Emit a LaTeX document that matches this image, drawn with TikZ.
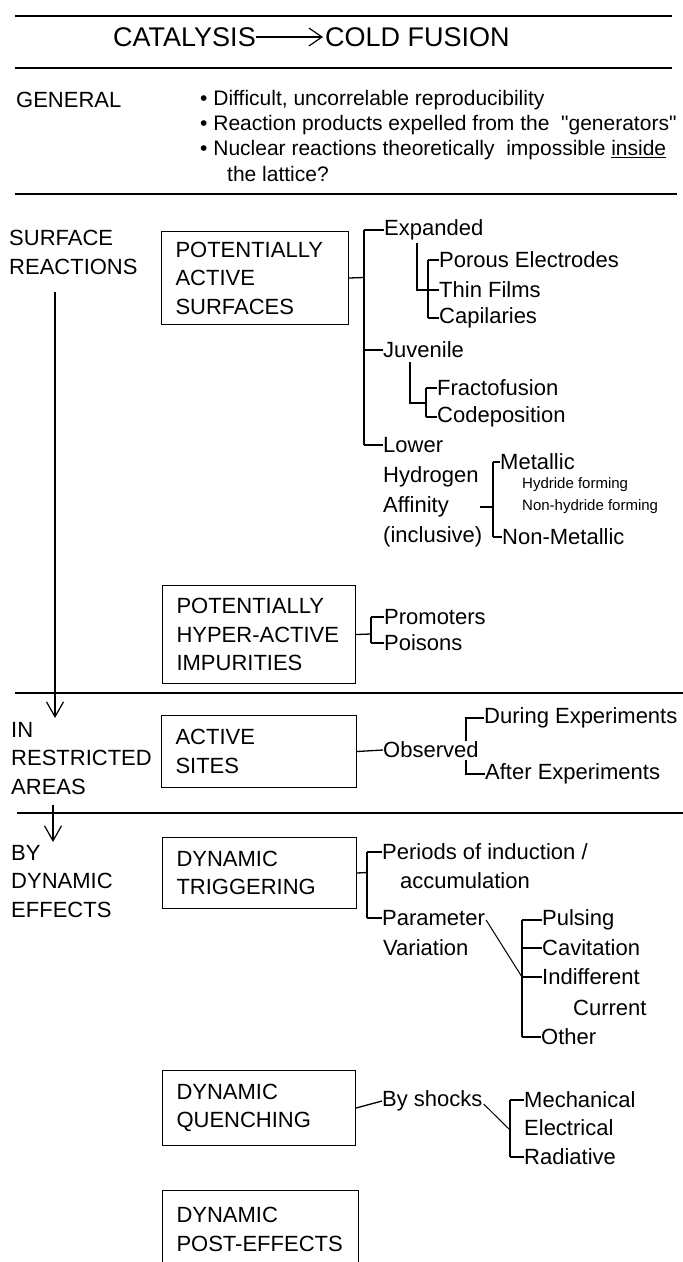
\documentclass[tikz,border=0pt]{standalone}
\usepackage{fontspec}
\setmainfont{Liberation Sans}[Ligatures=TeXOff]
\usetikzlibrary{arrows.meta}
\begin{document}
\begin{tikzpicture}[x=1pt,y=-1pt,
  lbl/.style={anchor=west,inner sep=0pt,font=\fontsize{22}{28.5}\selectfont,align=left},
  bul/.style={anchor=west,inner sep=0pt,font=\fontsize{21}{25}\selectfont},
  ttl/.style={anchor=west,inner sep=0pt,font=\fontsize{27}{30}\selectfont},
  small/.style={anchor=west,inner sep=0pt,font=\fontsize{15}{18}\selectfont},
  boxed/.style={draw,line width=1pt,anchor=north west,inner xsep=14pt,inner ysep=0pt,align=left,font=\fontsize{22}{28.5}\selectfont},
  rule/.style={line width=1.8pt},
  br/.style={line width=1.3pt},
  tip/.style={-{Straight Barb[length=15pt,width=17pt,line width=1.2pt]}}
]
\clip (0,0) rectangle (683,1262);
\fill[white] (0,0) rectangle (683,1262);

% ---- title ----
\draw[rule] (15,16) -- (672,16);
\node[ttl] (cat) at (113,37) {CATALYSIS};
\node[ttl] (cold) at (325,37) {COLD FUSION};
\draw[br,-{Straight Barb[length=13pt,width=18pt,line width=1.2pt]}] (cat.east) -- ([xshift=-2pt]cold.west);
\draw[rule] (15,68) -- (672,68);

% ---- general ----
\node[lbl] (gen) at (16,100) {GENERAL};
\node[bul] (g1) at (200,100) {\textbullet\ Difficult, uncorrelable reproducibility};
\node[bul] (g2) at (200,125) {\textbullet\ Reaction products expelled from the \ "generators"};
\node[bul] (g3) at (200,150) {\textbullet\ Nuclear reactions theoretically \ impossible \underline{inside}};
\node[bul] (g4) at (227,174) {the lattice?};
\draw[rule] (15,194) -- (677,194);

% ---- surface reactions ----
\node[lbl] (surf) at (9,252.5) {SURFACE\\REACTIONS};
\coordinate (a1s) at (55,292);
\coordinate (a1e) at (55,718);
\draw[br,tip] (a1s) -- (a1e);

\node[boxed,text width=159pt,minimum height=93pt] (b1) at (161,231) {POTENTIALLY\\ACTIVE\\SURFACES};
\coordinate (m1) at (364,277.5);
\coordinate (m1t) at (364,230);
\coordinate (m1b) at (364,445);
\draw[br] (b1.east) -- (m1);
\draw[br] (m1t) -- (m1b);

\node[lbl] (exp) at (384,230) {Expanded};
\node[lbl] (por) at (439,260) {Porous Electrodes};
\node[lbl] (thin) at (439,290) {Thin Films};
\node[lbl] (cap) at (439,318) {Capilaries};
\draw[br] (m1t) -- (exp.west);
\coordinate (e1) at (417,243);
\coordinate (e2) at (417,290);
\coordinate (e3) at (428,290);
\coordinate (e4) at (428,260);
\coordinate (e5) at (428,318);
\draw[br] (e1) -- (e2) -- (e3);
\draw[br] (e4) -- (e5);
\draw[br] (e4) -- (por.west);
\draw[br] (e3) -- (thin.west);
\draw[br] (e5) -- (cap.west);

\node[lbl] (juv) at (383,350) {Juvenile};
\coordinate (m1j) at (364,350);
\draw[br] (m1j) -- (juv.west);
\node[lbl] (fra) at (437,388) {Fractofusion};
\node[lbl] (cod) at (437,417) {Codeposition};
\coordinate (j1) at (410,362);
\coordinate (j2) at (410,403);
\coordinate (j3) at (426,403);
\coordinate (j4) at (426,388);
\coordinate (j5) at (426,417);
\draw[br] (j1) -- (j2) -- (j3);
\draw[br] (j4) -- (j5);
\draw[br] (j4) -- (fra.west);
\draw[br] (j5) -- (cod.west);

\node[lbl] (low) at (383,445) {Lower};
\draw[br] (m1b) -- (low.west);
\node[lbl] (hyd) at (383,477) {Hydrogen};
\node[lbl] (aff) at (383,507) {Affinity};
\node[lbl] (inc) at (383,537) {(inclusive)};
\node[lbl] (met) at (500,462) {Metallic};
\node[small] (hf) at (522,485) {Hydride forming};
\node[small] (nhf) at (522,507) {Non-hydride forming};
\node[lbl] (nmet) at (502,537) {Non-Metallic};
\coordinate (h0) at (480,507);
\coordinate (h1) at (493,507);
\coordinate (h2) at (493,462);
\coordinate (h3) at (493,537);
\draw[br] (h0) -- (h1);
\draw[br] (h2) -- (h3);
\draw[br] (h2) -- (met.west);
\draw[br] (h3) -- (nmet.west);

% ---- impurities ----
\node[boxed,text width=165pt,minimum height=98pt] (b2) at (162,585) {POTENTIALLY\\HYPER-ACTIVE\\IMPURITIES};
\node[lbl] (pro) at (384,617) {Promoters};
\node[lbl] (poi) at (384,643) {Poisons};
\coordinate (p0) at (371,634);
\coordinate (p1) at (371,617);
\coordinate (p2) at (371,643);
\draw[br] (b2.east) -- (p0);
\draw[br] (p1) -- (p2);
\draw[br] (p1) -- (pro.west);
\draw[br] (p2) -- (poi.west);

\draw[rule] (15,693) -- (683,693);

% ---- restricted areas ----
\node[lbl] (rest) at (11,758.5) {IN\\RESTRICTED\\AREAS};
\node[boxed,text width=167pt,minimum height=72pt] (b3) at (161,715) {ACTIVE\\SITES};
\node[lbl] (obs) at (383,750) {Observed};
\draw[br] (b3.east) -- (obs.west);
\node[lbl] (dur) at (484,718) {During Experiments};
\node[lbl] (aft) at (485,774) {After Experiments};
\coordinate (o1) at (466,718);
\coordinate (o2) at (466,741);
\coordinate (o3) at (466,760);
\coordinate (o4) at (466,774);
\draw[br] (o2) -- (o1) -- (dur.west);
\draw[br] (o3) -- (o4) -- (aft.west);

\draw[rule] (17,813) -- (683,813);
\coordinate (a2s) at (53,805);
\coordinate (a2e) at (53,842);
\draw[br,tip] (a2s) -- (a2e);

% ---- dynamic effects ----
\node[lbl] (dyn) at (11,881.5) {BY\\DYNAMIC\\EFFECTS};
\node[boxed,text width=166pt,minimum height=71pt] (b4) at (162,837) {DYNAMIC\\TRIGGERING};
\coordinate (t0) at (367,872.5);
\coordinate (t1) at (367,852);
\coordinate (t2) at (367,918);
\node[lbl] (per) at (382,852) {Periods of induction /};
\node[lbl] (acc) at (400,881) {accumulation};
\node[lbl] (par) at (382,918) {Parameter};
\node[lbl] (var) at (383,948) {Variation};
\draw[br] (b4.east) -- (t0);
\draw[br] (t1) -- (t2);
\draw[br] (t1) -- (per.west);
\draw[br] (t2) -- (par.west);

\node[lbl] (pul) at (542,920) {Pulsing};
\node[lbl] (cav) at (542,948) {Cavitation};
\node[lbl] (ind) at (542,977) {Indifferent};
\node[lbl] (cur) at (573,1008) {Current};
\node[lbl] (oth) at (541,1037) {Other};
\coordinate (q1) at (522,920);
\coordinate (q2) at (522,948);
\coordinate (q3) at (522,977);
\coordinate (q4) at (522,1037);
\draw[br] (q1) -- (q4);
\draw[br] (q1) -- (pul.west);
\draw[br] (q2) -- (cav.west);
\draw[br] (q3) -- (ind.west);
\draw[br] (q4) -- (oth.west);
\draw[line width=1pt] ([xshift=1pt,yshift=-2pt]par.east) -- (q3);

\node[boxed,text width=165pt,minimum height=75pt] (b5) at (162,1070) {DYNAMIC\\QUENCHING};
\node[lbl] (shk) at (382,1101) {By shocks};
\draw[br] (b5.east) -- (shk.west);
\node[lbl] (mec) at (524,1100) {Mechanical};
\node[lbl] (ele) at (524,1128) {Electrical};
\node[lbl] (rad) at (524,1157) {Radiative};
\coordinate (s1) at (510,1100);
\coordinate (s2) at (510,1130);
\coordinate (s3) at (510,1157);
\draw[br] (s1) -- (s3);
\draw[br] (s1) -- (mec.west);
\draw[br] (s3) -- (rad.west);
\draw[line width=1pt] ([xshift=1pt,yshift=-3pt]shk.east) -- (s2);

\node[boxed,text width=168pt,minimum height=78pt] (b6) at (162,1190) {DYNAMIC\\POST-EFFECTS};
\end{tikzpicture}
\end{document}
